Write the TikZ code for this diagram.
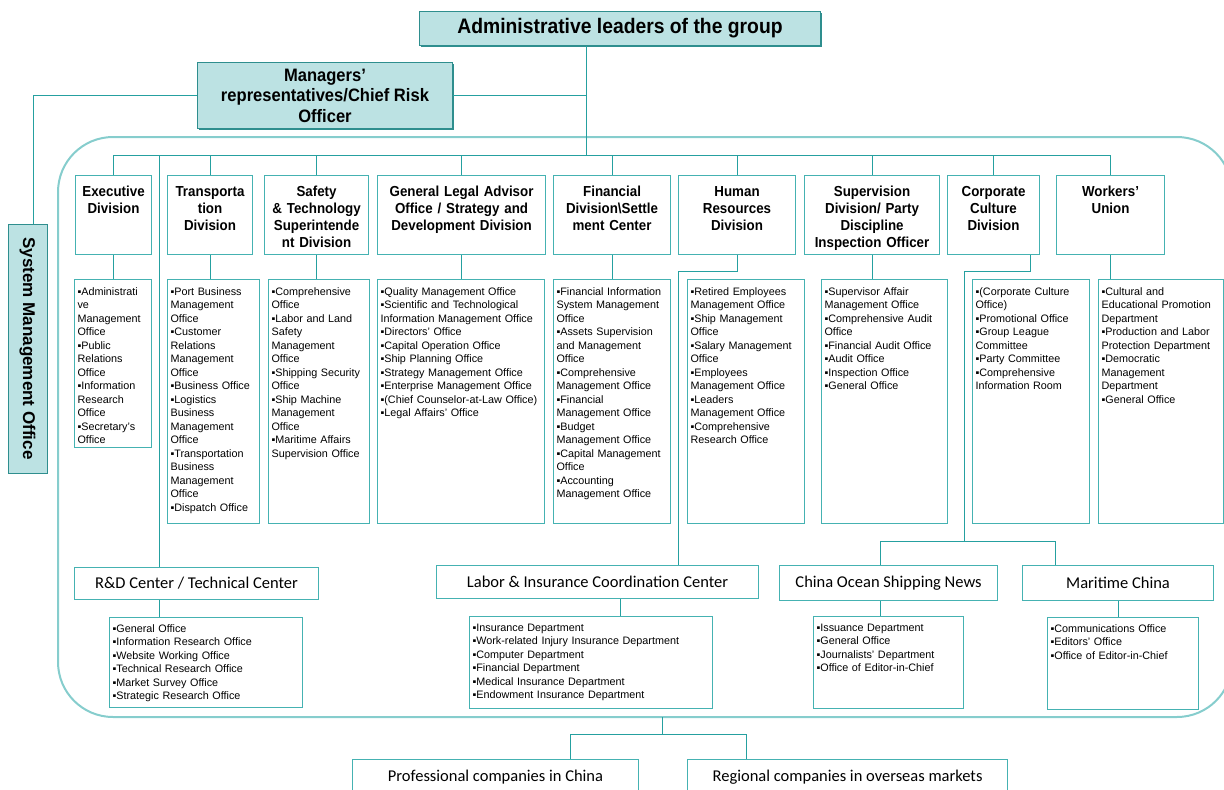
\documentclass[tikz,border=0pt]{standalone}
\usepackage{fontspec}
\setmainfont{Liberation Sans}
\newfontfamily\narrowfont[FakeStretch=0.92]{Liberation Sans}
\newfontfamily\calfont{Carlito}
\usepackage{tikz}
\usetikzlibrary{shadows}
\definecolor{leadfill}{HTML}{BCE2E3}
\definecolor{leadline}{HTML}{2E8E8E}
\definecolor{boxline}{HTML}{45B2B2}
\definecolor{linkcol}{HTML}{25A0A0}
\definecolor{framecol}{HTML}{86CDCD}
\tikzstyle{lead} = [draw=leadline, fill=leadfill, line width=1pt, inner sep=0pt, align=center, anchor=north west, drop shadow={shadow xshift=1.3pt, shadow yshift=-1.3pt, fill=leadline, opacity=1}]
\tikzstyle{division} = [draw=boxline, line width=1.1pt, anchor=north west, inner sep=3pt, align=center, text height=18pt, text depth=55pt, font=\narrowfont\bfseries\fontsize{14.5}{17}\selectfont]
\tikzstyle{offices} = [draw=boxline, line width=1.1pt, anchor=north west, inner sep=3pt, align=left, text height=12.5pt, font=\fontsize{10.8}{13.5}\selectfont]
\tikzstyle{sublist} = [offices, text height=11.7pt]
\tikzstyle{unit} = [draw=boxline, line width=1.1pt, anchor=north west, inner sep=0pt, font=\calfont\fontsize{16.5}{19}\selectfont]
\tikzstyle{link} = [draw=linkcol, line width=1pt]
\tikzstyle{frame} = [draw=framecol, line width=2pt]

\begin{document}
\begin{tikzpicture}[x=1pt,y=-1pt]
\useasboundingbox (0,0) rectangle (1224,790);
\clip (0,0) rectangle (1224,790);

% group frame
\draw [frame, rounded corners=55pt] (58,137) rectangle (1232,717);

% leaders
\node [lead, minimum width=401pt, minimum height=34pt, font=\narrowfont\bfseries\fontsize{21}{24}\selectfont] (leaders) at (419,11) {Administrative leaders of the group};
\node [lead, minimum width=255pt, minimum height=66pt, font=\narrowfont\bfseries\fontsize{18}{20.5}\selectfont] (managers) at (197,62) {Managers’\\representatives/Chief Risk\\Officer};
\node [lead, anchor=center, rotate=-90, minimum width=249pt, minimum height=39pt, font=\bfseries\fontsize{17}{20}\selectfont] (system) at (27.5,348.5) {System Management Office};

\coordinate (hub) at (586,155);
\coordinate (rdin) at (159,155);
\coordinate (sysin) at (33,224);
\coordinate (hrbend) at (678,271);
\coordinate (corpbend) at (964,271);
\coordinate (pubhub) at (964,541);
\coordinate (cosnin) at (880,541);
\coordinate (marin) at (1055,541);
\coordinate (grp) at (662,717);
\coordinate (profin) at (570,734);
\coordinate (regin) at (746,734);

% divisions
\node [division, text width=70pt] (exe) at (75,175) {Executive\\Division};
\node [division, text width=79pt] (trans) at (167,175) {Transporta\\tion\\Division};
\node [division, text width=98pt] (safety) at (264,175) {Safety\\\& Technology\\Superintende\\nt Division};
\node [division, text width=162pt] (legal) at (377,175) {General Legal Advisor\\Office / Strategy and\\Development Division};
\node [division, text width=111pt] (fin) at (553,175) {Financial\\Division\textbackslash Settle\\ment Center};
\node [division, text width=111pt] (hr) at (678,175) {Human\\Resources\\Division};
\node [division, text width=129pt] (sup) at (804,175) {Supervision\\Division/ Party\\Discipline\\Inspection Officer};
\node [division, text width=86pt] (corp) at (947,175) {Corporate\\Culture\\Division};
\node [division, text width=102pt] (union) at (1056,175) {Workers’\\Union};

% offices
\node [offices, text width=71pt, text depth=149.5pt] (exelist) at (74,279) {▪Administrati\\ve\\Management\\Office\\▪Public\\Relations\\Office\\▪Information\\Research\\Office\\▪Secretary's\\Office};
\node [offices, text width=86pt, text depth=225.5pt] (translist) at (167,279) {▪Port Business\\Management\\Office\\▪Customer\\Relations\\Management\\Office\\▪Business Office\\▪Logistics\\Business\\Management\\Office\\▪Transportation\\Business\\Management\\Office\\▪Dispatch Office};
\node [offices, text width=95pt, text depth=225.5pt] (safetylist) at (268,279) {▪Comprehensive\\Office\\▪Labor and Land\\Safety\\Management\\Office\\▪Shipping Security\\Office\\▪Ship Machine\\Management\\Office\\▪Maritime Affairs\\Supervision Office};
\node [offices, text width=161pt, text depth=225.5pt] (legallist) at (377,279) {▪Quality Management Office\\▪Scientific and Technological\\Information Management Office\\▪Directors' Office\\▪Capital Operation Office\\▪Ship Planning Office\\▪Strategy Management Office\\▪Enterprise Management Office\\▪(Chief Counselor-at-Law Office)\\▪Legal Affairs' Office};
\node [offices, text width=111pt, text depth=225.5pt] (finlist) at (553,279) {▪Financial Information\\System Management\\Office\\▪Assets Supervision\\and Management\\Office\\▪Comprehensive\\Management Office\\▪Financial\\Management Office\\▪Budget\\Management Office\\▪Capital Management\\Office\\▪Accounting\\Management Office};
\node [offices, text width=111pt, text depth=225.5pt] (hrlist) at (687,279) {▪Retired Employees\\Management Office\\▪Ship Management\\Office\\▪Salary Management\\Office\\▪Employees\\Management Office\\▪Leaders\\Management Office\\▪Comprehensive\\Research Office};
\node [offices, text width=120pt, text depth=225.5pt] (suplist) at (821,279) {▪Supervisor Affair\\Management Office\\▪Comprehensive Audit\\Office\\▪Financial Audit Office\\▪Audit Office\\▪Inspection Office\\▪General Office};
\node [offices, text width=111pt, text depth=225.5pt] (corplist) at (972,279) {▪(Corporate Culture\\Office)\\▪Promotional Office\\▪Group League\\Committee\\▪Party Committee\\▪Comprehensive\\Information Room};
\node [offices, text width=119pt, text depth=225.5pt] (unionlist) at (1098,279) {▪Cultural and\\Educational Promotion\\Department\\▪Production and Labor\\Protection Department\\▪Democratic\\Management\\Department\\▪General Office};

% centers and news
\node [unit, minimum width=244pt, minimum height=32pt] (rd) at (74,567) {R\&D Center / Technical Center};
\node [unit, minimum width=322pt, minimum height=33pt] (labor) at (436,565) {Labor \& Insurance Coordination Center};
\node [unit, minimum width=218pt, minimum height=35pt] (cosn) at (779,565) {China Ocean Shipping News};
\node [unit, minimum width=191pt, minimum height=35pt] (mar) at (1022,565) {Maritime China};
\node [sublist, text width=187pt, text depth=72.3pt] (rdlist) at (109,617) {▪General Office\\▪Information Research Office\\▪Website Working Office\\▪Technical Research Office\\▪Market Survey Office\\▪Strategic Research Office};
\node [sublist, text width=237pt, text depth=74.3pt] (laborlist) at (469,616) {▪Insurance Department\\▪Work-related Injury Insurance Department\\▪Computer Department\\▪Financial Department\\▪Medical Insurance Department\\▪Endowment Insurance Department};
\node [sublist, text width=144pt, text depth=74.3pt] (cosnlist) at (813,616) {▪Issuance Department\\▪General Office\\▪Journalists' Department\\▪Office of Editor-in-Chief};
\node [sublist, text width=145pt, text depth=74.3pt] (marlist) at (1047,617) {▪Communications Office\\▪Editors' Office\\▪Office of Editor-in-Chief};

% companies
\node [unit, minimum width=286pt, minimum height=36pt] (prof) at (352,759) {Professional companies in China};
\node [unit, minimum width=320pt, minimum height=36pt] (reg) at (687,759) {Regional companies in overseas markets};

% connectors
\draw [link] (leaders.south -| hub) -- (hub);
\draw [link] (managers.east) -- (managers.east -| hub);
\draw [link] (managers.west) -| (sysin);
\draw [link] (exe.north |- hub) -- (union.north |- hub);
\foreach \d in {exe,trans,safety,legal,fin,hr,sup,corp,union}
  \draw [link] (\d.north) -- (\d.north |- hub);
\foreach \d/\l in {exe/exelist,trans/translist,safety/safetylist,legal/legallist,fin/finlist,sup/suplist,union/unionlist}
  \draw [link] (\d.south) -- (\d.south |- \l.north);
\draw [link] (hr.south) |- (hrbend) -- (hrbend |- labor.north);
\coordinate (corpout) at ([xshift=37pt]corp.south);
\draw [link] (corpout) |- (corpbend) -- (pubhub);
\draw [link] (cosnin |- cosn.north) -- (cosnin) -- (marin) -- (marin |- mar.north);
\draw [link] (rdin) -- (rdin |- rd.north);
\draw [link] (rdin |- rd.south) -- (rdin |- rdlist.north);
\coordinate (laborout) at ([xshift=23pt]labor.south);
\draw [link] (laborout) -- (laborout |- laborlist.north);
\draw [link] (cosnin |- cosn.south) -- (cosnin |- cosnlist.north);
\draw [link] (mar.south) -- (mar.south |- marlist.north);
\draw [link] (grp) -- (grp |- profin);
\draw [link] (profin |- prof.north) -- (profin) -- (regin) -- (regin |- reg.north);
\end{tikzpicture}
\end{document}
